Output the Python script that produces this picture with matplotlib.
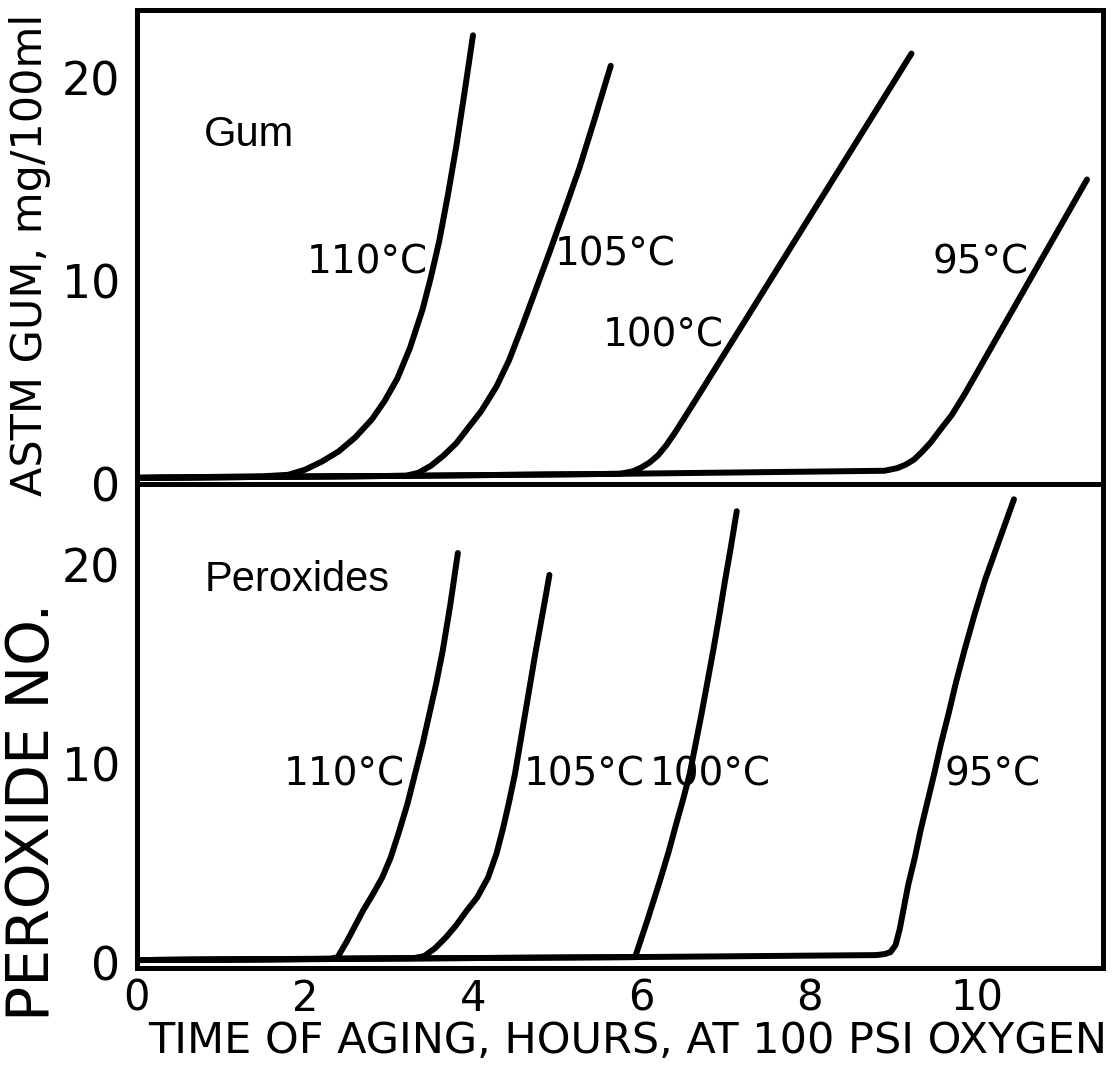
import matplotlib
matplotlib.use("Agg")
import matplotlib.pyplot as plt

# Gum formation vs. aging time (hours, mg/100ml)
gum_110_t = [0, 1.5, 1.8, 2.0, 2.2, 2.4, 2.6, 2.8, 2.95, 3.1, 3.25, 3.4, 3.5,
             3.6, 3.7, 3.8, 3.9, 4.0]
gum_110_v = [0.3, 0.38, 0.45, 0.7, 1.1, 1.6, 2.3, 3.2, 4.1, 5.2, 6.7, 8.6, 10.2,
             12.0, 14.2, 16.6, 19.3, 22.1]
gum_105_t = [0, 3.2, 3.35, 3.5, 3.65, 3.8, 3.95, 4.1, 4.28, 4.43, 4.58, 4.75,
             4.91, 5.1, 5.27, 5.45, 5.64]
gum_105_v = [0.3, 0.4, 0.55, 0.9, 1.4, 2.0, 2.8, 3.6, 4.8, 6.1, 7.7, 9.6,
             11.4, 13.6, 15.6, 18.0, 20.6]
gum_100_t = [0, 3.2, 5.75, 5.9, 6.0, 6.1, 6.2, 6.3, 6.4, 6.5, 6.66, 9.22]
gum_100_v = [0.3, 0.4, 0.5, 0.62, 0.8, 1.05, 1.4, 1.9, 2.5, 3.15, 4.2, 21.2]
gum_95_t = [0, 3.2, 5.75, 8.9, 9.05, 9.15, 9.25, 9.35, 9.45, 9.55, 9.7, 9.85, 11.31]
gum_95_v = [0.3, 0.4, 0.5, 0.65, 0.78, 0.95, 1.2, 1.6, 2.05, 2.6, 3.4, 4.4, 15.0]

# Peroxide number vs. aging time
per_110_t = [0, 2.3, 2.39, 2.5, 2.6, 2.7, 2.8, 2.92, 3.02, 3.12, 3.22, 3.31,
             3.4, 3.48, 3.56, 3.64, 3.73, 3.82]
per_110_v = [0.15, 0.2, 0.3, 1.1, 1.9, 2.7, 3.4, 4.3, 5.3, 6.6, 8.0, 9.5,
             11.0, 12.5, 14.0, 15.7, 18.0, 20.6]
per_105_t = [0, 3.3, 3.42, 3.55, 3.68, 3.8, 3.92, 4.05, 4.18, 4.28, 4.36, 4.43,
             4.5, 4.56, 4.62, 4.68, 4.74, 4.8, 4.86, 4.91]
per_105_v = [0.15, 0.25, 0.35, 0.75, 1.3, 1.9, 2.6, 3.3, 4.3, 5.5, 6.8, 8.1,
             9.5, 11.0, 12.5, 14.0, 15.5, 16.9, 18.3, 19.5]
per_100_t = [0, 5.93, 6.08, 6.23, 6.33, 6.42, 6.5, 6.58, 6.65, 6.72, 6.79, 6.86,
             6.93, 7.0, 7.07, 7.14]
per_100_v = [0.15, 0.3, 2.2, 4.2, 5.6, 7.0, 8.2, 9.5, 11.0, 12.5, 14.1, 15.7,
             17.4, 19.2, 20.9, 22.7]
per_95_t = [0, 5.93, 8.8, 8.9, 8.97, 9.03, 9.08, 9.13, 9.18, 9.26, 9.33, 9.41,
            9.49, 9.57, 9.66, 9.75, 9.85, 9.97, 10.1, 10.27, 10.44]
per_95_v = [0.15, 0.3, 0.4, 0.45, 0.55, 0.9, 1.7, 2.8, 3.9, 5.3, 6.7, 8.1,
            9.5, 11.0, 12.5, 14.1, 15.7, 17.5, 19.3, 21.3, 23.3]

x_ticks = [0, 2, 4, 6, 8, 10]
y_ticks = [0, 10, 20]

fig = plt.figure(figsize=(11.19, 10.70), dpi=100)
ax_gum = fig.add_axes([0.1224, 0.5477, 0.8633, 0.443])
ax_per = fig.add_axes([0.1224, 0.0953, 0.8633, 0.4524])

line_kw = dict(color="black", lw=4.3, solid_capstyle="round", solid_joinstyle="round")

for t, v in [(gum_110_t, gum_110_v), (gum_105_t, gum_105_v),
             (gum_100_t, gum_100_v), (gum_95_t, gum_95_v)]:
    ax_gum.plot(t, v, **line_kw)

for t, v in [(per_110_t, per_110_v), (per_105_t, per_105_v),
             (per_100_t, per_100_v), (per_95_t, per_95_v)]:
    ax_per.plot(t, v, **line_kw)

ax_gum.set_xlim(0, 11.5)
ax_gum.set_ylim(0, 23.35)
ax_per.set_xlim(0, 11.5)
ax_per.set_ylim(-0.25, 24.07)

for ax in (ax_gum, ax_per):
    ax.set_yticks(y_ticks)
    ax.set_yticklabels([str(v) for v in y_ticks], fontsize=33)
    ax.tick_params(length=0, pad=12)
    for s in ax.spines.values():
        s.set_linewidth(3.6)

ax_gum.set_xticks([])
ax_per.set_xticks(x_ticks)
ax_per.set_xticklabels([str(v) for v in x_ticks], fontsize=30)
ax_per.tick_params(axis="x", pad=7)

# panel titles
ax_gum.text(0.8, 17.2, "Gum", fontsize=30, family="Liberation Sans", va="center")
ax_per.text(0.8, 19.25, "Peroxides", fontsize=30, family="Liberation Sans", va="center")

# temperature labels
tkw = dict(fontsize=28, va="center")
ax_gum.text(3.46, 10.9, "110°C", ha="right", **tkw)
ax_gum.text(4.97, 11.3, "105°C", ha="left", **tkw)
ax_gum.text(6.99, 7.3, "100°C", ha="right", **tkw)
ax_gum.text(10.62, 10.9, "95°C", ha="right", **tkw)

ax_per.text(3.19, 9.45, "110°C", ha="right", **tkw)
ax_per.text(4.6, 9.45, "105°C", ha="left", **tkw)
ax_per.text(6.1, 9.45, "100°C", ha="left", **tkw)
ax_per.text(9.61, 9.45, "95°C", ha="left", **tkw)

# axis titles
fig.text(0.027, 1 - 255 / 1070, "ASTM GUM, mg/100ml", rotation=90, fontsize=31,
         ha="center", va="center")
fig.text(0.029, 1 - 812 / 1070, "PEROXIDE NO.", rotation=90, fontsize=42,
         ha="center", va="center")
fig.text(628 / 1119, 1 - 1041 / 1070, "TIME OF AGING, HOURS, AT 100 PSI OXYGEN",
         fontsize=31, ha="center", va="center")

fig.savefig("out.png", dpi=100)
